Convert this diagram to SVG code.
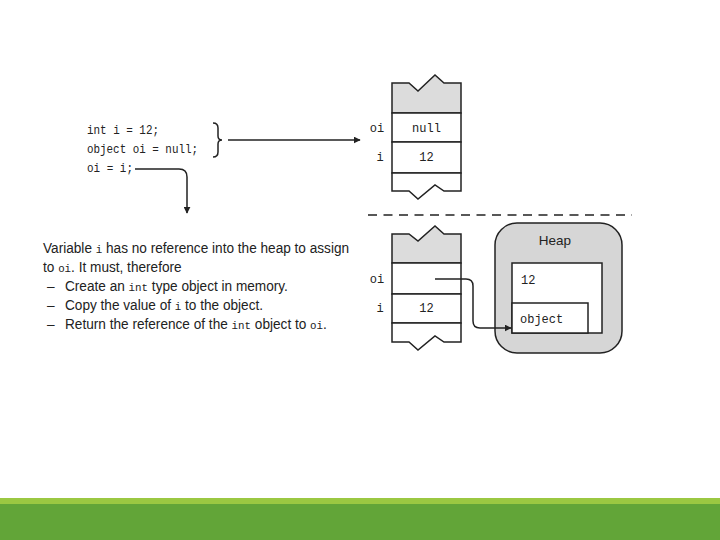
<svg xmlns="http://www.w3.org/2000/svg" width="720" height="540" viewBox="0 0 720 540">
<style>
.mono{font-family:"Liberation Mono","DejaVu Sans Mono",monospace;fill:#222}
.sans{font-family:"Liberation Sans",Arial,sans-serif;fill:#222}
.box{fill:#fff;stroke:#222;stroke-width:1.5}
.gray{fill:#dcdcdc;stroke:#222;stroke-width:1.5}
.ln{fill:none;stroke:#222;stroke-width:1.5}
</style>
<defs>
<marker id="ah" viewBox="0 0 10 10" refX="9" refY="5" markerWidth="7" markerHeight="7" markerUnits="userSpaceOnUse" orient="auto">
<path d="M0,0 L10,5 L0,10 z" fill="#222"/>
</marker>
</defs>
<rect x="0" y="0" width="720" height="540" fill="#fff"/>

<g id="code">
<text class="mono" font-size="12" x="87" y="134" textLength="72" lengthAdjust="spacingAndGlyphs">int i = 12;</text>
<text class="mono" font-size="12" x="87" y="153" textLength="111" lengthAdjust="spacingAndGlyphs">object oi = null;</text>
<text class="mono" font-size="12" x="87" y="172" textLength="46" lengthAdjust="spacingAndGlyphs">oi = i;</text>
<path class="ln" d="M213,123 Q218,123 218,128 V136 Q218,140 222,140 Q218,140 218,144 V152 Q218,157 213,157"/>
</g>

<g id="explanation" transform="translate(43,0) scale(0.94,1) translate(-43,0)">
<text class="sans" font-size="14.5" x="43" y="253">Variable <tspan class="mono" font-size="11.5">i</tspan> has no reference into the heap to assign</text>
<text class="sans" font-size="14.5" x="43" y="272">to <tspan class="mono" font-size="11.5">oi</tspan>.  It must, therefore</text>
<text class="sans" font-size="14.5" x="47.3" y="291">–</text>
<text class="sans" font-size="14.5" x="66.4" y="291">Create an <tspan class="mono" font-size="11.5">int</tspan> type object in memory.</text>
<text class="sans" font-size="14.5" x="47.3" y="310">–</text>
<text class="sans" font-size="14.5" x="66.4" y="310">Copy the value of <tspan class="mono" font-size="11.5">i</tspan> to the object.</text>
<text class="sans" font-size="14.5" x="47.3" y="329">–</text>
<text class="sans" font-size="14.5" x="66.4" y="329">Return the reference of the <tspan class="mono" font-size="11.5">int</tspan> object to <tspan class="mono" font-size="11.5">oi</tspan>.</text>
</g>

<g id="stack-before">
<path class="gray" d="M392,113 V83 H409 L418,91 L435,75 L444,83 H461 V113 Z"/>
<rect class="box" x="392" y="113" width="69" height="29"/>
<rect class="box" x="392" y="142" width="69" height="31"/>
<path class="box" d="M392,173 H461 V191 H444 L435,185 L418,199 L409,191 H392 Z"/>
<text class="mono" font-size="12" x="426.5" y="132" text-anchor="middle">null</text>
<text class="mono" font-size="12" x="426.5" y="161" text-anchor="middle">12</text>
<text class="mono" font-size="12" x="377" y="132" text-anchor="middle">oi</text>
<text class="mono" font-size="12" x="380" y="161" text-anchor="middle">i</text>
</g>

<g id="stack-after">
<path class="gray" d="M392,263 V234 H409 L418,241 L435,226 L444,234 H461 V263 Z"/>
<rect class="box" x="392" y="263" width="69" height="31"/>
<rect class="box" x="392" y="294" width="69" height="29"/>
<path class="box" d="M392,323 H461 V342 H444 L435,336 L418,350 L409,342 H392 Z"/>
<text class="mono" font-size="12" x="426.5" y="312" text-anchor="middle">12</text>
<text class="mono" font-size="12" x="377" y="283" text-anchor="middle">oi</text>
<text class="mono" font-size="12" x="380" y="312" text-anchor="middle">i</text>
</g>

<g id="heap">
<rect x="495" y="223" width="127" height="130" rx="22" fill="#d6d6d6" stroke="#222" stroke-width="1.5"/>
<text class="sans" font-size="13.5" x="555" y="245" text-anchor="middle">Heap</text>
<rect class="box" x="512" y="263" width="90" height="70"/>
<text class="mono" font-size="12" x="521" y="284">12</text>
<rect class="box" x="512" y="303" width="76" height="30"/>
<text class="mono" font-size="12" x="520" y="323">object</text>
</g>

<g id="connectors">
<path class="ln" d="M228,140 H360" marker-end="url(#ah)"/>
<path class="ln" d="M135,169 H179 Q187,169 187,177 V213" marker-end="url(#ah)"/>
<path class="ln" d="M435,279 H466 Q473,279 473,286 V321 Q473,328 480,328 H511" marker-end="url(#ah)"/>
<path d="M368,215 H632" fill="none" stroke="#222" stroke-width="1.5" stroke-dasharray="9,6.5"/>
</g>

<g id="footer">
<rect x="0" y="498" width="720" height="6" fill="#9bc842"/>
<rect x="0" y="504" width="720" height="36" fill="#62a538"/>
</g>
</svg>
